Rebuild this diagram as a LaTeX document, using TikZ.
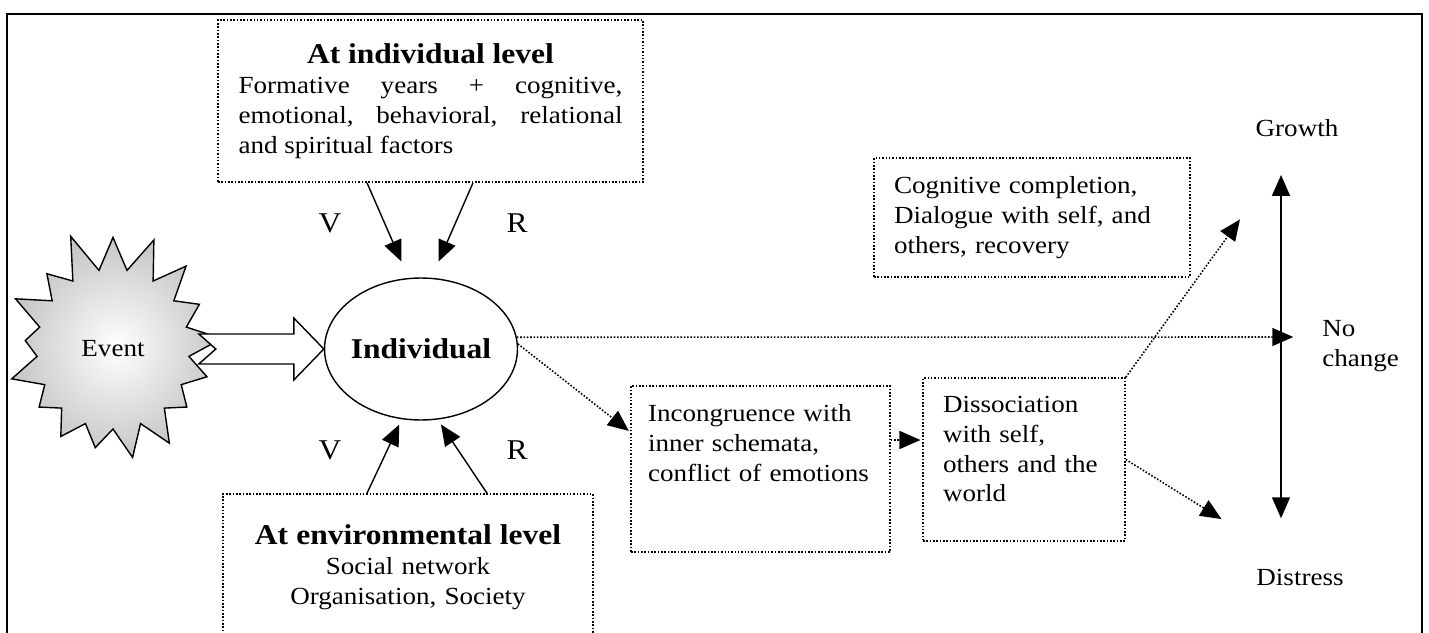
\documentclass[tikz,border=0pt]{standalone}
\usepackage{fontspec}
\setmainfont{Liberation Serif}[FakeStretch=1.1]
\usetikzlibrary{positioning, calc}
\usetikzlibrary{arrows.meta}
\usetikzlibrary{shapes,arrows}
\newcommand{\headfont}{\fontsize{16.3}{19}\selectfont\bfseries}
\hyphenpenalty=10000

\begin{document}
\begin{tikzpicture}[x=0.02cm,y=-0.02cm,shorten >=1pt,draw=black!100,font=\fontsize{14}{17}\selectfont]
	\def \rowmid{349}
	\def \axis{1281}
	\tikzstyle{dot-box}=[draw,line width=0.9pt,dash pattern=on 0.9pt off 1pt,inner ysep=0pt,inner xsep=0.4cm]
	\tikzstyle{s-arrow}=[line width=0.8pt,-{Triangle[length=0.42cm,width=0.36cm]}]
	\tikzstyle{d-arrow}=[line width=0.9pt,dash pattern=on 0.9pt off 1pt,-{Triangle[length=0.42cm,width=0.36cm]}]
	\tikzstyle{annot}=[inner sep=0pt]
	\tikzstyle{vr}=[inner sep=0pt,font=\fontsize{16.3}{19}\selectfont]
	\path[use as bounding box] (0,0) rectangle (1429,632);
	\clip (0,0) rectangle (1429,632);
	% frame
	\draw[line width=1.5pt] (7,660) |- (1422,14) -- (1422,660);
	
	% factor boxes
	\node[dot-box,minimum width=8.5cm,minimum height=3.24cm,text width=7.68cm,align=justify] (indlevel) at (430.5,101)
		{{\headfont\centering At individual level\par}Formative years + cognitive,\linebreak emotional, behavioral, relational\linebreak and spiritual factors};
	\node[dot-box,minimum width=7.4cm,minimum height=2.92cm,text width=6.6cm,align=center] (envlevel) at (408,567)
		{{\headfont At environmental level}\\ Social network\\ Organisation, Society};
	
	% event and individual
	\node[starburst,draw,line width=0.8pt,starburst points=17,starburst point height=0.85cm,random starburst=11,
		minimum width=4.75cm,minimum height=4.9cm,shading=radial,inner color=white,outer color=gray!45] (event) at (113,\rowmid) {Event};
	\node[ellipse,draw,line width=0.8pt,inner xsep=-0.15cm,inner ysep=0pt,minimum width=3.86cm,minimum height=2.84cm,font=\headfont] (indiv) at (421,\rowmid) {Individual};
	\draw[line width=0.8pt,fill=white,shift={(indiv.west)}] (-125,-15) -- (-30,-15) -- (-30,-31) -- (0,0)
		-- (-30,31) -- (-30,15) -- (-125,15) -- (-108,0) -- cycle;
	
	% process boxes
	\node[dot-box,inner xsep=0.34cm,minimum width=5.18cm,minimum height=3.32cm,text width=4.5cm,align=left] (incong) at (760.5,469)
		{Incongruence with\\ inner schemata,\\ conflict of emotions\rule[-1.04cm]{0pt}{0pt}};
	\node[dot-box,minimum width=4.04cm,minimum height=3.26cm,text width=3.24cm,align=left] (dissoc) at (1024,459.5)
		{Dissociation\\ with self,\\ others and the\\ world\rule[-0.42cm]{0pt}{0pt}};
	\node[dot-box,minimum width=6.32cm,minimum height=2.38cm,text width=5.52cm,align=left] (cogcomp) at (1032,217.5)
		{Cognitive completion,\\ Dialogue with self, and\\ others, recovery};
	
	% outcomes
	\node[annot] (growth) at (1297,128) {Growth};
	\node[annot] (distress) at (1300,577) {Distress};
	\node[annot,anchor=west,align=left] (nochange) at (1322,346) {No\\ change};
	
	% labels
	\node[vr] (vtop) at (330,223) {V};
	\node[vr] (rtop) at (517,223) {R};
	\node[vr] (vbot) at (330,450) {V};
	\node[vr] (rbot) at (517,450) {R};
	
	\coordinate (v-in-top) at (402,263);
	\coordinate (r-in-top) at (438,263);
	\coordinate (v-in-bot) at (400,423);
	\coordinate (r-in-bot) at (440,423);
	\coordinate (grow-tip) at (\axis,175);
	\coordinate (dist-tip) at (\axis,520);
	\coordinate (nochange-end) at (1295,337);
	\coordinate (grow-end) at (1241,218);
	\coordinate (dist-end) at (1223,520);
	\coordinate (c1) at ($(incong.east)+(0,-29)$);
	
	\draw[s-arrow] ($(indlevel.south)+(-63.5,0)$) -- (v-in-top);
	\draw[s-arrow] ($(indlevel.south)+(42.5,0)$) -- (r-in-top);
	\draw[s-arrow] ($(envlevel.north)+(-41,0)$) -- (v-in-bot);
	\draw[s-arrow] ($(envlevel.north)+(79,0)$) -- (r-in-bot);
	\draw[line width=1pt,{Triangle[length=0.42cm,width=0.36cm]}-{Triangle[length=0.42cm,width=0.36cm]}] (grow-tip) -- (dist-tip);
	
	\path
		(indiv.7)	edge[d-arrow]	(nochange-end)
		(indiv.3)	edge[d-arrow]	($(incong.west)+(0,-37)$)
		(c1)	edge[d-arrow]	(c1 -| dissoc.west)
		(dissoc.north east)	edge[d-arrow]	(grow-end)
		(dissoc.east)	edge[d-arrow]	(dist-end);
\end{tikzpicture}
\end{document}
